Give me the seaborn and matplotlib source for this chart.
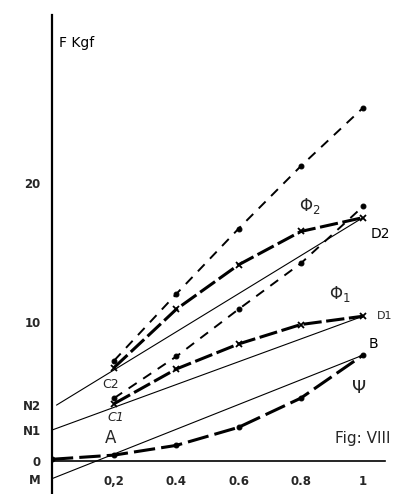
import numpy as np
import pandas as pd
import matplotlib
matplotlib.use("Agg")
import matplotlib.pyplot as plt
import seaborn as sns

sns.set_style("white")
plt.rcParams['font.family'] = ['DejaVu Sans']

x = [0.2, 0.4, 0.6, 0.8, 1.0]
phi2_dashed = [7.2, 12.0, 16.7, 21.2, 25.4]
phi2 = [6.7, 10.9, 14.1, 16.5, 17.5]
phi1_dashed = [4.5, 7.5, 10.9, 14.2, 18.3]
phi1 = [4.1, 6.6, 8.4, 9.8, 10.4]
psi_x = [0.0, 0.2, 0.4, 0.6, 0.8, 1.0]
psi = [0.1, 0.4, 1.1, 2.4, 4.5, 7.6]

# straight reference lines N2-D2, N1-D1, M-B
n2_x, n2_y = [0.015, 1.0], [4.0, 17.5]
n1_x, n1_y = [0.0, 1.0], [2.2, 10.4]
m_x, m_y = [0.0, 1.0], [-1.3, 7.6]

yticks = [-1.3, 0, 2.2, 4.0, 10, 20]
ytick_labels = ["M", "0", "N1", "N2", "10", "20"]
xticks = [0.2, 0.4, 0.6, 0.8, 1.0]
xtick_labels = ["0,2", "0.4", "0.6", "0.8", "1"]

fig = plt.figure(figsize=(4.05, 4.94), dpi=100)
ax = fig.add_axes([0.128, 0.0, 0.822, 0.970])

# thin straight lines
for lx, ly in [(n2_x, n2_y), (n1_x, n1_y), (m_x, m_y)]:
    sns.lineplot(x=lx, y=ly, ax=ax, color="black", lw=0.8)

# dashed lines with dots
for vals in [phi2_dashed, phi1_dashed]:
    sns.lineplot(x=x, y=vals, ax=ax, color="black", lw=1.4,
                 linestyle=(0, (5, 4)), marker="o", markersize=3.5,
                 markeredgecolor="black", markerfacecolor="black")

# thick curves with crosses
for vals in [phi2, phi1]:
    sns.lineplot(x=x, y=vals, ax=ax, color="black", lw=2.2,
                 linestyle=(0, (6, 1.5)), marker="x", markersize=5,
                 markeredgewidth=1.3, markeredgecolor="black")

# psi curve
sns.lineplot(x=psi_x, y=psi, ax=ax, color="black", lw=2.2,
             linestyle=(0, (7, 2)), marker="o", markersize=3.5,
             markeredgecolor="black", markerfacecolor="black")

ax.set_xlim(0, 1.07)
ax.set_ylim(-2.4, 32.1)

for s in ["top", "right"]:
    ax.spines[s].set_visible(False)
ax.spines["bottom"].set_position(("data", 0))
ax.spines["left"].set_linewidth(1.6)
ax.spines["bottom"].set_linewidth(1.2)
ax.spines["left"].set_color("black")
ax.spines["bottom"].set_color("black")

ax.set_yticks(yticks)
ax.set_yticklabels(ytick_labels, fontsize=8.5, fontweight="bold")
ax.set_xticks(xticks)
ax.set_xticklabels(xtick_labels, fontsize=8.5, fontweight="bold")
ax.tick_params(axis="y", direction="in", length=5, width=1.2, pad=8)
ax.tick_params(axis="x", direction="in", length=4, width=1, pad=10)
# only the numbered y ticks carry a mark
for t, lab in zip(ax.yaxis.get_major_ticks(), ytick_labels):
    if lab not in ("10", "20"):
        t.tick1line.set_visible(False)
ax.set_xlabel("")
ax.set_ylabel("")

# annotations
txt = dict(color="black", fontsize=10)
ax.text(0.023, 30.1, "F Kgf", ha="left", va="center", **txt)
ax.text(0.83, 18.3, r"$\Phi_2$", ha="center", va="center", fontsize=12)
ax.text(1.055, 16.3, "D2", ha="center", va="center", **txt)
ax.text(0.925, 12.0, r"$\Phi_1$", ha="center", va="center", fontsize=12)
ax.text(1.068, 10.4, "D1", ha="center", va="center", fontsize=8)
ax.text(1.035, 8.4, "B", ha="center", va="center", **txt)
ax.text(0.985, 5.2, r"$\Psi$", ha="center", va="center", fontsize=13)
ax.text(0.19, 1.6, "A", ha="center", va="center", fontsize=12)
ax.text(0.19, 5.5, "C2", ha="center", va="center", fontsize=9)
ax.text(0.205, 3.1, "C1", ha="center", va="center", fontsize=9, style="italic")
ax.text(1.0, 1.6, "Fig: VIII", ha="center", va="center", fontsize=11)

fig.savefig("out.png", dpi=100)
